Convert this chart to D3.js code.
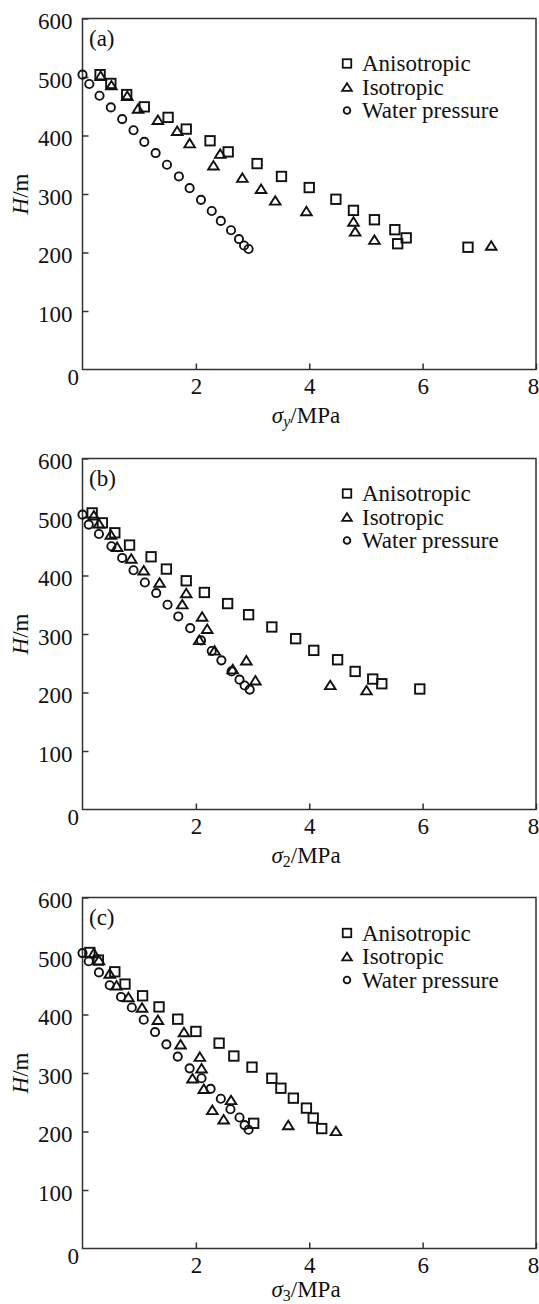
<!DOCTYPE html>
<html>
<head>
<meta charset="utf-8">
<script src="https://cdn.jsdelivr.net/npm/d3@7"></script>
<style>
  body { margin: 0; background: #fff; }
  svg { display: block; }
  text { font-family: "Liberation Serif", "Times New Roman", serif; fill: #111; }
</style>
</head>
<body>
<svg id="chart" width="539" height="1304"></svg>
<script>
// Data: [sigma (MPa), H (m)]
const anisoA = [[0.31,504],[0.50,489],[0.78,470],[1.09,449],[1.51,431],[1.83,411],[2.25,391],[2.57,372],[3.08,352],[3.51,330],[4.00,311],[4.47,291],[4.78,272],[5.15,256],[5.51,239],[5.56,215],[5.71,225],[6.80,209]];
const isoA = [[0.32,502],[0.51,486],[0.79,468],[0.98,446],[1.33,427],[1.67,408],[1.89,387],[2.31,349],[2.43,369],[2.82,328],[3.15,309],[3.40,289],[3.95,271],[4.78,253],[4.81,236],[5.15,222],[7.21,212]];
const waterA = [[0.0,504],[0.12,488],[0.30,468],[0.50,448],[0.70,428],[0.90,409],[1.09,389],[1.29,370],[1.49,350],[1.70,330],[1.89,310],[2.09,290],[2.28,271],[2.44,254],[2.62,238],[2.76,223],[2.85,212],[2.93,206]];

const anisoB = [[0.17,507],[0.35,490],[0.57,473],[0.83,452],[1.21,432],[1.48,411],[1.83,391],[2.15,371],[2.56,352],[2.93,333],[3.34,312],[3.76,292],[4.08,272],[4.50,256],[4.81,236],[5.12,223],[5.28,215],[5.95,206]];
const isoB = [[0.20,503],[0.29,489],[0.50,470],[0.61,449],[0.86,429],[1.08,409],[1.36,388],[1.83,370],[1.76,351],[2.11,330],[2.20,309],[2.06,290],[2.33,272],[2.65,240],[2.89,255],[3.05,221],[4.37,213],[5.01,204]];
const waterB = [[0.0,504],[0.11,487],[0.29,471],[0.51,450],[0.70,430],[0.90,409],[1.10,388],[1.30,370],[1.50,350],[1.69,330],[1.90,310],[2.09,289],[2.28,271],[2.45,255],[2.63,236],[2.77,222],[2.86,212],[2.95,205]];

const anisoC = [[0.13,506],[0.28,493],[0.57,473],[0.75,452],[1.06,432],[1.35,413],[1.68,392],[2.00,371],[2.41,351],[2.67,329],[2.99,310],[3.34,291],[3.50,274],[3.72,257],[3.95,240],[4.07,223],[4.22,205],[3.02,214]];
const isoC = [[0.20,505],[0.29,493],[0.48,470],[0.60,450],[0.81,430],[1.05,412],[1.33,391],[1.79,370],[1.73,349],[2.07,328],[2.10,308],[1.94,291],[2.14,273],[2.62,254],[2.29,237],[2.49,221],[3.63,211],[4.47,201]];
const waterC = [[0.0,505],[0.11,491],[0.29,472],[0.48,450],[0.68,430],[0.87,412],[1.08,391],[1.28,370],[1.48,349],[1.68,328],[1.89,308],[2.10,291],[2.26,273],[2.44,256],[2.61,238],[2.77,224],[2.86,211],[2.93,203]];

const xTicks = [2, 4, 6, 8];
const yTicks = [100, 200, 300, 400, 500, 600];
const seriesNames = ["Anisotropic", "Isotropic", "Water pressure"];

const svg = d3.select("#chart");
const INK = "#111";
const FS = 23;

// marker drawing: square, triangle, circle
function marker(g, kind, x, y, s) {
    if (kind === 0) {
        g.append("rect").attr("x", x - s / 2).attr("y", y - s / 2)
            .attr("width", s).attr("height", s);
    } else if (kind === 1) {
        var h = s * 0.9;
        g.append("path").attr("d", "M" + x + "," + (y - h / 2) +
            "L" + (x + s / 2 + 0.6) + "," + (y + h / 2) +
            "L" + (x - s / 2 - 0.6) + "," + (y + h / 2) + "Z");
    } else {
        g.append("circle").attr("cx", x).attr("cy", y).attr("r", s * 0.42);
    }
}

function drawPanel(top, bottom, label, sub, subItalic, series, legendOff, titleOff) {
    const left = 82.5, right = 536;
    const x = d3.scaleLinear().domain([0, 8]).range([left, right]);
    const y = d3.scaleLinear().domain([0, 600]).range([bottom, top]);

    const g = svg.append("g");

    // frame
    g.append("rect")
        .attr("x", left).attr("y", top)
        .attr("width", right - left).attr("height", bottom - top)
        .attr("fill", "none").attr("stroke", "#333").attr("stroke-width", 1.5);

    var xAxis = d3.axisBottom(x).tickValues(xTicks).tickSizeInner(-6).tickSizeOuter(0)
        .tickPadding(8.5).tickFormat(d3.format("d"));
    var gx = g.append("g").attr("transform", "translate(0," + bottom + ")").call(xAxis);
    gx.select(".domain").remove();
    gx.selectAll("line").attr("stroke", "#333").attr("stroke-width", 1.5);
    gx.selectAll("text").style("font-size", FS + "px").attr("fill", INK)
        .attr("dx", function (d) { return d === 8 ? -3 : 0; });

    var yAxis = d3.axisLeft(y).tickValues(yTicks).tickSizeInner(-6).tickSizeOuter(0)
        .tickPadding(10);
    var gy = g.append("g").attr("transform", "translate(" + left + ",0)").call(yAxis);
    gy.select(".domain").remove();
    gy.selectAll("line").attr("stroke", "#333").attr("stroke-width", 1.5);
    gy.selectAll("text").style("font-size", FS + "px").attr("fill", INK).attr("dy", "0.45em");

    // shared zero at the corner
    g.append("text").attr("x", left - 3.5).attr("y", bottom + 15)
        .attr("text-anchor", "end").style("font-size", FS + "px").text("0");

    // panel tag
    g.append("text").attr("x", 89).attr("y", top + 27)
        .style("font-size", FS + "px").text(label);

    // axis titles
    var yt = g.append("text")
        .attr("transform", "translate(28," + ((top + bottom) / 2) + ") rotate(-90)")
        .attr("text-anchor", "middle").style("font-size", FS + "px");
    yt.append("tspan").style("font-style", "italic").text("H");
    yt.append("tspan").text("/m");

    var xt = g.append("text").attr("x", 306).attr("y", bottom + titleOff)
        .attr("text-anchor", "middle").style("font-size", FS + "px");
    xt.append("tspan").style("font-style", "italic").text("σ");
    xt.append("tspan").attr("dy", 4).style("font-size", "16px")
        .style("font-style", subItalic ? "italic" : "normal").text(sub);
    xt.append("tspan").attr("dy", -4).text("/MPa");

    // points
    var pts = g.append("g").attr("fill", "none").attr("stroke", "#111").attr("stroke-width", 1.9);
    series.forEach(function (data, k) {
        data.forEach(function (d) {
            marker(pts, k, x(d[0]), y(d[1]), k === 2 ? 9.8 : 9.4);
        });
    });

    // legend
    var lg = g.append("g");
    var ly = top + legendOff;
    seriesNames.forEach(function (name, k) {
        var yy = ly + k * 23.5;
        var m = lg.append("g").attr("fill", "none").attr("stroke", "#111").attr("stroke-width", 1.8);
        marker(m, k, 347, yy, k === 2 ? 8 : 8.5);
        lg.append("text").attr("x", 362).attr("y", yy + 7.5)
            .style("font-size", FS + "px").text(name);
    });
}

drawPanel(18.5, 369.5, "(a)", "y", true, [anisoA, isoA, waterA], 45, 53);
drawPanel(458.5, 809.5, "(b)", "2", false, [anisoB, isoB, waterB], 35, 53);
drawPanel(897.5, 1248.5, "(c)", "3", false, [anisoC, isoC, waterC], 35.5, 48.5);
</script>
</body>
</html>
